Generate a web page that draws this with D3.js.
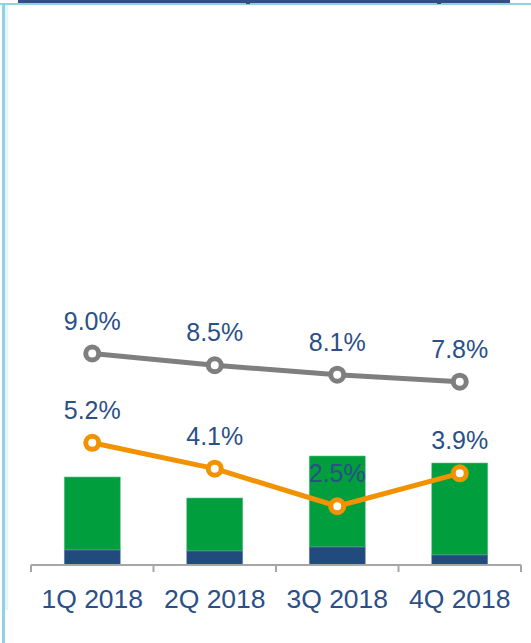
<!DOCTYPE html>
<html>
<head>
<meta charset="utf-8">
<script src="https://cdn.jsdelivr.net/npm/d3@7"></script>
<style>
  html, body { margin: 0; padding: 0; background: #ffffff; }
  svg { display: block; }
</style>
</head>
<body>
<div id="chart"></div>
<script>
// Quarterly data
const quarters = ["1Q 2018", "2Q 2018", "3Q 2018", "4Q 2018"];
const barBase = [0.15, 0.14, 0.18, 0.10];   // dark blue segment
const barTop = [0.73, 0.53, 0.91, 0.92];    // green segment stacked on top
const rateGray = [9.0, 8.5, 8.1, 7.8];      // upper line, %
const rateOrange = [5.2, 4.1, 2.5, 3.9];    // lower line, %

const W = 531, H = 643;
const svg = d3.select("#chart").append("svg").attr("width", W).attr("height", H);

// Frame decoration
svg.append("rect").attr("x", 5).attr("y", 5).attr("width", 3).attr("height", 605).attr("fill", "#e3f4fa");
svg.append("rect").attr("x", 0).attr("y", 3).attr("width", W).attr("height", 2).attr("fill", "#92d1e2");
svg.append("rect").attr("x", 2).attr("y", 3).attr("width", 3).attr("height", H - 3).attr("fill", "#92d1e2");
svg.append("rect").attr("x", 18).attr("y", 0).attr("width", 492).attr("height", 3).attr("fill", "#2e5084");
[246, 437].forEach(x => svg.append("rect").attr("x", x).attr("y", 0).attr("width", 4).attr("height", 4).attr("fill", "#2e5084"));

// Scales
const x = d3.scaleBand().domain(quarters).range([31, 521]).paddingInner(0).paddingOuter(0);
const baseY = 565;
const yLine = d3.scaleLinear().domain([0, 10]).range([baseY, 330]);
const yBar = d3.scaleLinear().domain([0, 2.35]).range([baseY, 330]);
const barW = x.bandwidth() * 0.457;
const cx = q => x(q) + x.bandwidth() / 2;

const textColor = "#2b4f87";
const font = "'Liberation Sans', Arial, sans-serif";

// Stacked bars
const bars = svg.append("g");
quarters.forEach((q, i) => {
  bars.append("rect")
    .attr("x", cx(q) - barW / 2).attr("width", barW)
    .attr("y", yBar(barBase[i] + barTop[i])).attr("height", yBar(barBase[i]) - yBar(barBase[i] + barTop[i]))
    .attr("fill", "#009e3c").attr("stroke", "#5cc48a").attr("stroke-width", 0.6);
  bars.append("rect")
    .attr("x", cx(q) - barW / 2).attr("width", barW)
    .attr("y", yBar(barBase[i])).attr("height", yBar(0) - yBar(barBase[i]))
    .attr("fill", "#214a7d").attr("stroke", "#6d88b0").attr("stroke-width", 0.6);
});

// Category axis
const axis = d3.axisBottom(x).tickSize(0).tickPadding(24);
const gAxis = svg.append("g").attr("transform", `translate(0,${baseY})`).call(axis);
gAxis.select(".domain").remove();
gAxis.append("line").attr("x1", 31).attr("x2", 521).attr("y1", 0).attr("y2", 0)
  .attr("stroke", "#a6a6a6").attr("stroke-width", 2);
const bounds = quarters.map(q => x(q)).concat([x(quarters[3]) + x.bandwidth()]);
bounds.forEach(b => gAxis.append("line").attr("x1", b).attr("x2", b).attr("y1", 0).attr("y2", 7)
  .attr("stroke", "#a6a6a6").attr("stroke-width", 2));
gAxis.selectAll(".tick text")
  .attr("font-family", font).attr("font-size", 26.5).attr("fill", textColor)
  .attr("dy", "0.71em");

// Lines with markers and labels
function drawSeries(vals, color) {
  const pts = quarters.map((q, i) => [cx(q), yLine(vals[i])]);
  svg.append("path").attr("d", d3.line()(pts))
    .attr("fill", "none").attr("stroke", color).attr("stroke-width", 5).attr("stroke-linejoin", "round");
  svg.append("g").selectAll("circle").data(pts).join("circle")
    .attr("cx", d => d[0]).attr("cy", d => d[1]).attr("r", 6.5)
    .attr("fill", "#ffffff").attr("stroke", color).attr("stroke-width", 5);
  svg.append("g").selectAll("text").data(vals).join("text")
    .attr("x", (d, i) => pts[i][0]).attr("y", (d, i) => pts[i][1] - 24)
    .attr("text-anchor", "middle")
    .attr("font-family", font).attr("font-size", 25).attr("fill", textColor)
    .text(d => d.toFixed(1) + "%");
}
drawSeries(rateGray, "#7f7f7f");
drawSeries(rateOrange, "#f39200");
</script>
</body>
</html>
